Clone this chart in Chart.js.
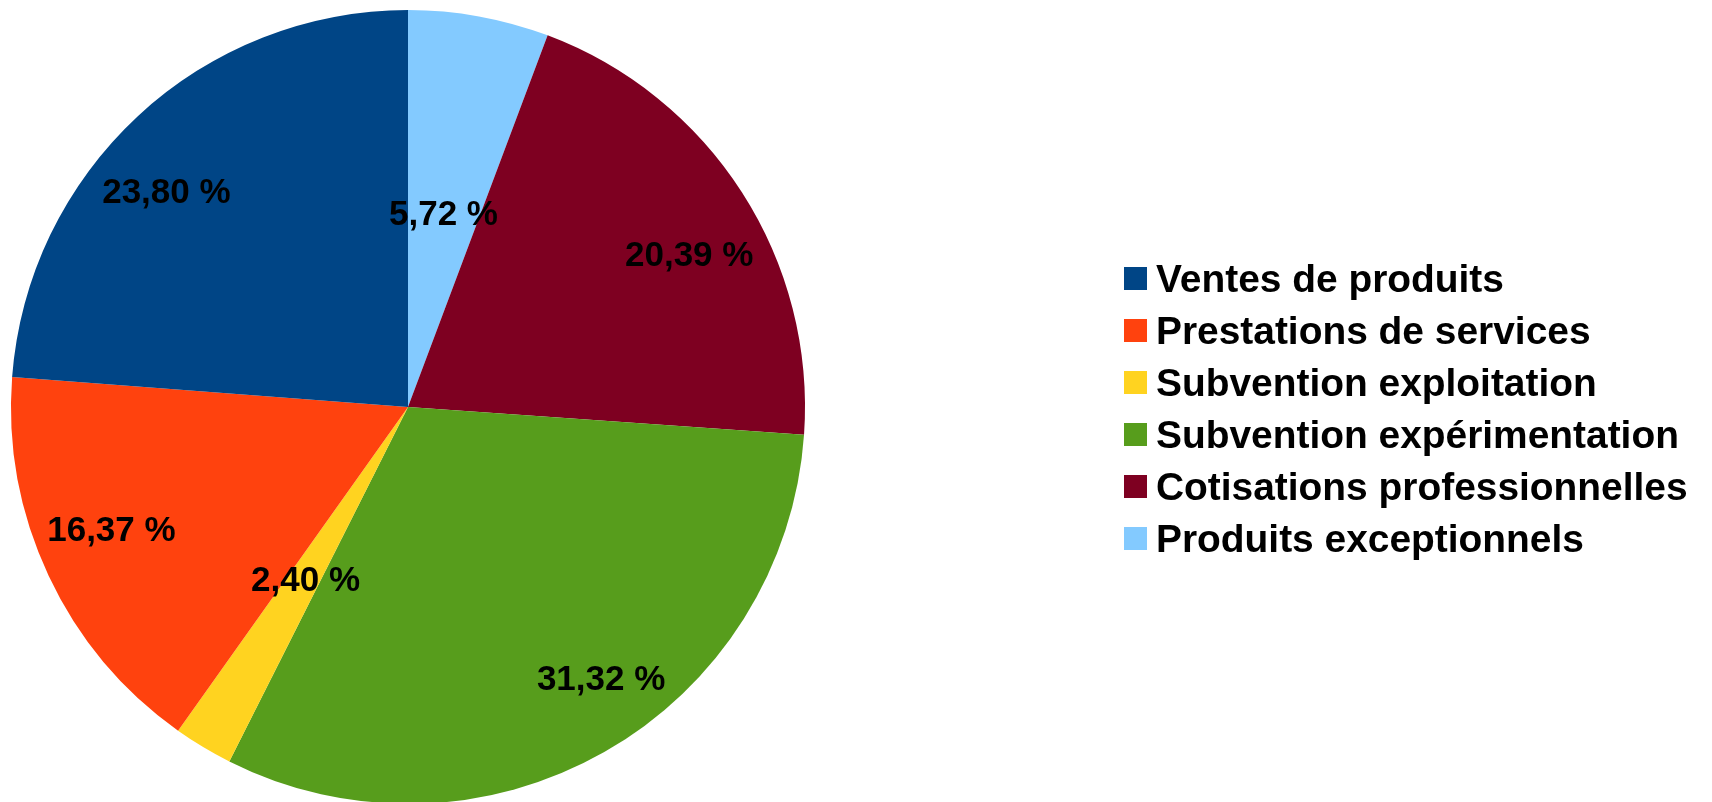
<!DOCTYPE html>
<html>
<head>
<meta charset="utf-8">
<script src="https://cdn.jsdelivr.net/npm/chart.js@4"></script>
<style>
  html, body { margin: 0; padding: 0; background: #fff; overflow: hidden; }
  #wrap { position: relative; width: 1712px; height: 814px; }
  #legend { position: absolute; left: 1124px; top: 252.5px; font: bold 38.9px "Liberation Sans", Arial, sans-serif; color: #000; }
  #legend .row { display: flex; align-items: center; height: 52px; line-height: 52px; white-space: nowrap; }
  #legend .sq { width: 23px; height: 23px; margin-right: 9px; flex: none; }
</style>
</head>
<body>
<div id="wrap">
  <canvas id="pie"></canvas>
  <div id="legend"></div>
</div>
<script>
// legend order (LibreOffice draws these counter-clockwise from 12 o'clock)
const categories = ['Ventes de produits', 'Prestations de services', 'Subvention exploitation',
  'Subvention expérimentation', 'Cotisations professionnelles', 'Produits exceptionnels'];
const percents = [23.80, 16.37, 2.40, 31.32, 20.39, 5.72];
const colors = ['#004586', '#ff420e', '#ffd320', '#579d1c', '#7e0021', '#83caff'];

// Chart.js goes clockwise, so feed the slices reversed
const pieLabels = categories.slice().reverse();
const pieValues = percents.slice().reverse();
const pieColors = colors.slice().reverse();

const labelFont = 'bold 35px "Liberation Sans", Arial, sans-serif';

function fmt(v) {
  return v.toFixed(2).replace('.', ',') + ' %';
}

function normAngle(a, start) {
  while (a < start) a += Math.PI * 2;
  while (a >= start + Math.PI * 2) a -= Math.PI * 2;
  return a;
}

// inside placement: anchor on the bisector, text pushed outward sideways,
// pulled in until its far corner sits just inside the rim.
// slices too thin for that get the text centered at r/2
const sliceLabels = {
  id: 'sliceLabels',
  afterDatasetsDraw(chart) {
    const ctx = chart.ctx;
    const meta = chart.getDatasetMeta(0);
    ctx.save();
    ctx.font = labelFont;
    ctx.fillStyle = '#000';
    ctx.textAlign = 'center';
    ctx.textBaseline = 'middle';
    meta.data.forEach((arc, i) => {
      const p = arc.getProps(['x', 'y', 'startAngle', 'endAngle', 'outerRadius'], true);
      const txt = fmt(chart.data.datasets[0].data[i]);
      const w = ctx.measureText(txt).width;
      const h = 39;
      const shift = w * 0.31;
      const mid = (p.startAngle + p.endAngle) / 2;
      const ux = Math.cos(mid), uy = Math.sin(mid);
      const sx = ux >= 0 ? 1 : -1, sy = uy >= 0 ? 1 : -1;
      const rFar = p.outerRadius - 10;
      const ox = sx * (shift + w / 2), oy = sy * h / 2;
      const uo = ux * ox + uy * oy;
      const d = -uo + Math.sqrt(uo * uo - (ox * ox + oy * oy) + rFar * rFar);
      let cx = p.x + d * ux + sx * shift, cy = p.y + d * uy;

      const corners = [[-1, -1], [1, -1], [-1, 1], [1, 1]].map(([a, b]) => [cx + a * w / 2, cy + b * h / 2]);
      const fits = d > 0 && corners.every(([x, y]) => {
        const a = normAngle(Math.atan2(y - p.y, x - p.x), p.startAngle);
        return a <= p.endAngle && Math.hypot(x - p.x, y - p.y) <= p.outerRadius;
      });
      if (!fits) {
        cx = p.x + ux * p.outerRadius * 0.5;
        cy = p.y + uy * p.outerRadius * 0.5;
      }
      // 'middle' sits the digits a bit high, nudge down
      ctx.fillText(txt, cx, cy + 4);
    });
    ctx.restore();
  }
};

new Chart(document.getElementById('pie'), {
  type: 'pie',
  data: {
    labels: pieLabels,
    datasets: [{
      data: pieValues,
      backgroundColor: pieColors,
      borderWidth: 0,
      hoverBorderWidth: 0,
      hoverOffset: 0
    }]
  },
  options: {
    responsive: true,
    maintainAspectRatio: false,
    animation: false,
    layout: { padding: { left: 11, right: 907, top: 10, bottom: 10 } },
    plugins: {
      legend: { display: false },
      tooltip: { enabled: false }
    }
  },
  plugins: [sliceLabels]
});

const legend = document.getElementById('legend');
categories.forEach((c, i) => {
  const row = document.createElement('div');
  row.className = 'row';
  row.innerHTML = `<span class="sq" style="background:${colors[i]}"></span><span>${c}</span>`;
  legend.appendChild(row);
});
</script>
</body>
</html>
